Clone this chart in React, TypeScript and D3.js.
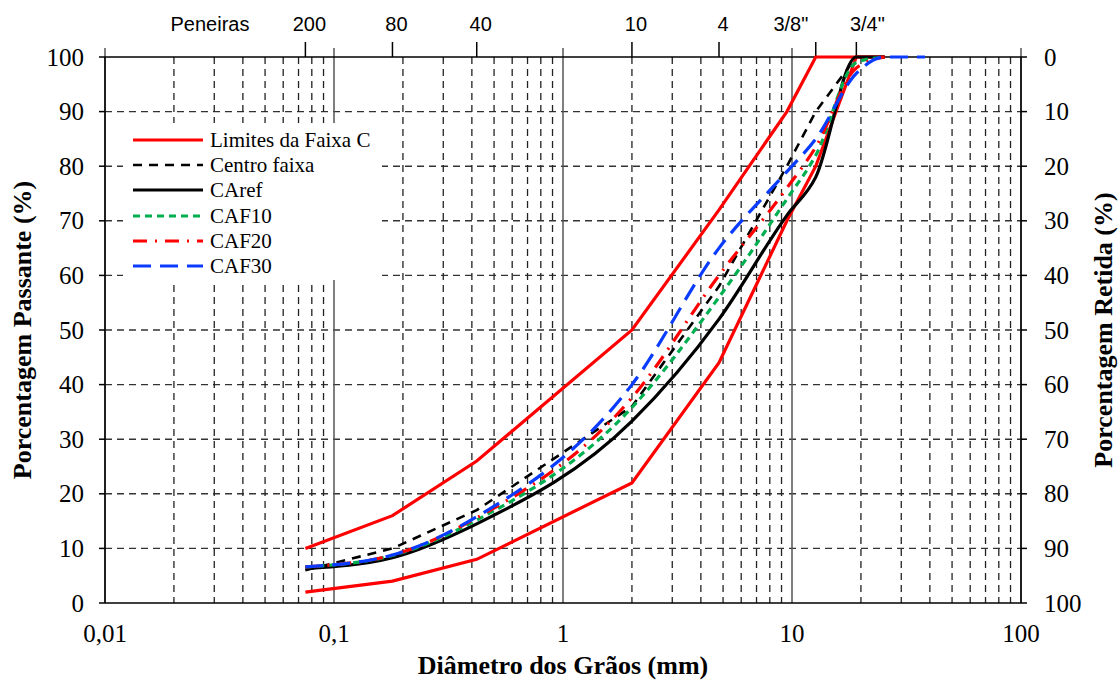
import React from "react";
import * as d3 from "d3";

const sieveMm = [0.075, 0.18, 0.42, 2.0, 4.8, 9.5, 12.7, 19.1, 25.4];
const sieveMmWide = [0.075, 0.18, 0.42, 2.0, 4.8, 9.5, 12.7, 19.1, 25.4, 38.1];
const limitUpper = [10, 16, 26, 50, 72, 90, 100, 100, 100];
const limitLower = [2, 4, 8, 22, 44, 70, 80, 100, 100];
const centroFaixa = [6, 10, 17, 36, 58, 80, 90, 100];
const caRef = [6.3, 8.3, 14.5, 33.3, 52, 71, 78, 100, 100];
const caf10 = [6.6, 8.7, 15.2, 35.8, 56, 74, 82, 99, 100];
const caf20 = [6.6, 8.8, 15.6, 37.6, 60, 76, 83.5, 98, 100];
const caf30 = [6.6, 8.8, 15.8, 40, 65, 79, 85, 97, 100, 100];

const sieveLabels = ["200", "80", "40", "10", "4", '3/8"', '3/4"'];
const sieveLabelMm = [0.075, 0.18, 0.42, 2.0, 4.8, 9.5, 20.5];
const sieveTickMm = [0.075, 0.18, 0.42, 2.0, 4.8, 12.7, 19.1];
const xTickValues = [0.01, 0.1, 1, 10, 100];
const xTickLabels = ["0,01", "0,1", "1", "10", "100"];
const yTicks = [0, 10, 20, 30, 40, 50, 60, 70, 80, 90, 100];

const serif = "'Liberation Serif', 'Times New Roman', serif";
const sans = "'Liberation Sans', Arial, sans-serif";

export default function App() {
  const L = 105, R = 1021, T = 57, B = 603;
  const x = d3.scaleLog().domain([0.01, 100]).range([L, R]);
  const y = d3.scaleLinear().domain([0, 100]).range([B, T]);

  const minor: number[] = [];
  for (let e = -2; e < 2; e++) {
    for (let m = 2; m <= 9; m++) minor.push(m * Math.pow(10, e));
  }

  const lin = d3
    .line<[number, number]>()
    .x((d) => x(d[0]))
    .y((d) => y(d[1]));
  const smooth = d3
    .line<[number, number]>()
    .x((d) => x(d[0]))
    .y((d) => y(d[1]))
    .curve(d3.curveMonotoneX);
  const pairs = (xs: number[], ys: number[]) =>
    ys.map((v, i) => [xs[i], v] as [number, number]);

  const series = [
    { name: "Limites da Faixa C", color: "#ff0000", dash: "", w: 3.2 },
    { name: "Centro faixa", color: "#000000", dash: "9,7", w: 2.6 },
    { name: "CAref", color: "#000000", dash: "", w: 3.2 },
    { name: "CAF10", color: "#00b050", dash: "7,5", w: 3.2 },
    { name: "CAF20", color: "#ff0000", dash: "14,8,2,8", w: 3.2 },
    { name: "CAF30", color: "#0a3cff", dash: "18,9", w: 3.2 },
  ];

  const legX = 123, legY = 123, legW = 259, legH = 157;
  const legItemY = [140, 165, 190, 216, 241, 266];

  return (
    <svg
      width={1120}
      height={682}
      style={{ position: "absolute", left: 0, top: 0, background: "#fff" }}
    >
      <rect x={0} y={0} width={1120} height={682} fill="#fff" />
      {yTicks
        .filter((v) => v > 0 && v < 100)
        .map((v) => (
          <line
            key={"h" + v}
            x1={L}
            x2={R}
            y1={y(v)}
            y2={y(v)}
            stroke="#333"
            strokeWidth={1.4}
            strokeDasharray="7,5"
          />
        ))}
      {minor.map((v) => (
        <line
          key={"v" + v}
          x1={x(v)}
          x2={x(v)}
          y1={T}
          y2={B}
          stroke="#222"
          strokeWidth={1.3}
          strokeDasharray="7,5"
        />
      ))}
      {xTickValues.map((v) => (
        <line
          key={"d" + v}
          x1={x(v)}
          x2={x(v)}
          y1={T - 9}
          y2={B}
          stroke="#555"
          strokeWidth={1.5}
        />
      ))}
      <line x1={L} x2={R} y1={T} y2={T} stroke="#000" strokeWidth={1.5} />
      <line x1={L} x2={R} y1={B} y2={B} stroke="#000" strokeWidth={1.5} />
      <line x1={L} x2={L} y1={T} y2={B} stroke="#000" strokeWidth={1.5} />
      <line x1={R} x2={R} y1={T} y2={B} stroke="#000" strokeWidth={1.5} />
      {yTicks.map((v) => (
        <g key={"yt" + v}>
          <line x1={L - 6} x2={L} y1={y(v)} y2={y(v)} stroke="#000" strokeWidth={1.5} />
          <line x1={R} x2={R + 6} y1={y(v)} y2={y(v)} stroke="#000" strokeWidth={1.5} />
          <text
            x={84}
            y={y(v)}
            textAnchor="end"
            dominantBaseline="central"
            fontFamily={serif}
            fontSize={25}
          >
            {v}
          </text>
          <text
            x={1044}
            y={y(v)}
            textAnchor="start"
            dominantBaseline="central"
            fontFamily={serif}
            fontSize={25}
          >
            {100 - v}
          </text>
        </g>
      ))}
      {xTickValues.map((v, i) => (
        <text
          key={"xt" + v}
          x={x(v)}
          y={633}
          textAnchor="middle"
          dominantBaseline="central"
          fontFamily={serif}
          fontSize={25}
        >
          {xTickLabels[i]}
        </text>
      ))}
      {sieveTickMm.map((v) => (
        <line
          key={"st" + v}
          x1={x(v)}
          x2={x(v)}
          y1={T - 15}
          y2={T}
          stroke="#000"
          strokeWidth={1.5}
        />
      ))}
      {sieveLabels.map((s, i) => (
        <text
          key={"sl" + s}
          x={x(sieveLabelMm[i]) + 4}
          y={31}
          textAnchor="middle"
          fontFamily={sans}
          fontSize={20}
        >
          {s}
        </text>
      ))}
      <text x={210} y={31} textAnchor="middle" fontFamily={sans} fontSize={20}>
        Peneiras
      </text>
      <text
        x={563}
        y={674}
        textAnchor="middle"
        fontFamily={serif}
        fontWeight="bold"
        fontSize={26}
      >
        Diâmetro dos Grãos (mm)
      </text>
      <text
        transform={`translate(22,${(T + B) / 2}) rotate(-90)`}
        textAnchor="middle"
        dominantBaseline="central"
        fontFamily={serif}
        fontWeight="bold"
        fontSize={26}
      >
        Porcentagem Passante (%)
      </text>
      <text
        transform={`translate(1103,${(T + B) / 2}) rotate(-90)`}
        textAnchor="middle"
        dominantBaseline="central"
        fontFamily={serif}
        fontWeight="bold"
        fontSize={26}
      >
        Porcentagem Retida (%)
      </text>
      <rect x={legX} y={legY} width={legW} height={legH} fill="#fff" />
      <path d={lin(pairs(sieveMm, limitUpper)) || ""} fill="none" stroke={series[0].color} strokeWidth={series[0].w} />
      <path d={lin(pairs(sieveMm, limitLower)) || ""} fill="none" stroke={series[0].color} strokeWidth={series[0].w} />
      <path d={lin(pairs(sieveMm, centroFaixa)) || ""} fill="none" stroke={series[1].color} strokeWidth={series[1].w} strokeDasharray={series[1].dash} />
      <path d={smooth(pairs(sieveMm, caRef)) || ""} fill="none" stroke={series[2].color} strokeWidth={series[2].w} />
      <path d={smooth(pairs(sieveMm, caf10)) || ""} fill="none" stroke={series[3].color} strokeWidth={series[3].w} strokeDasharray={series[3].dash} />
      <path d={smooth(pairs(sieveMm, caf20)) || ""} fill="none" stroke={series[4].color} strokeWidth={series[4].w} strokeDasharray={series[4].dash} />
      <path d={smooth(pairs(sieveMmWide, caf30)) || ""} fill="none" stroke={series[5].color} strokeWidth={series[5].w} strokeDasharray={series[5].dash} />
      {series.map((s, i) => (
        <g key={"lg" + s.name}>
          <line
            x1={133}
            x2={203}
            y1={legItemY[i]}
            y2={legItemY[i]}
            stroke={s.color}
            strokeWidth={s.w}
            strokeDasharray={s.dash}
          />
          <text
            x={210}
            y={legItemY[i]}
            dominantBaseline="central"
            fontFamily={serif}
            fontSize={21}
          >
            {s.name}
          </text>
        </g>
      ))}
    </svg>
  );
}
